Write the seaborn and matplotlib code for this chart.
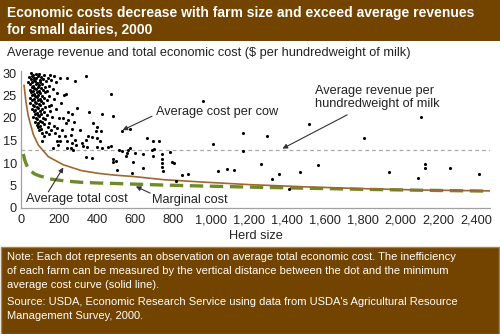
import matplotlib
matplotlib.use("Agg")
import matplotlib.pyplot as plt
from matplotlib.patches import Rectangle
import seaborn as sns
import pandas as pd

# Farm observations: herd size and average total economic cost ($/cwt)
farm_herd = [
    55, 63, 78, 96, 121, 152,
    44, 60, 70, 88, 107, 140, 176,
    52, 66, 81, 99, 115, 160, 205,
    38, 58, 74, 86, 102, 131, 185,
    49, 65, 79, 94, 112, 146,
    57, 71, 90, 104, 125, 168,
    46, 62, 77, 97, 118, 139,
    54, 69, 85, 101, 128, 190, 236,
    60, 75, 92, 110, 150, 225,
    50, 66, 83, 99, 119, 172,
    58, 73, 88, 106, 135,
    47, 64, 80, 95, 114, 158, 210,
    69, 84, 101, 126, 145,
    60, 76, 91, 109, 182, 293,
    67, 82, 98, 120, 154, 249,
    72, 88, 104, 138, 267,
    64, 80, 95, 116, 165, 200,
    85, 101, 127, 223, 249,
    76, 92, 110, 148, 279,
    83, 99, 123, 175, 237,
    90, 106, 140, 192,
    97, 131, 160, 214, 267, 311,
    112, 150, 181,
    120, 202, 232, 262,
    240, 284, 342, 474, 360, 428, 486, 381, 398, 393, 421, 530, 574,
    351, 372, 398, 416, 340, 328, 349, 398, 425, 457, 474, 342, 372,
    482, 486, 498, 504, 518, 530, 556, 553, 565, 574, 600, 591, 586,
    644, 644, 661, 697, 726, 688, 700, 693, 740, 740, 745, 740, 749,
    787, 796, 807, 814, 846, 881, 1009, 1039, 1083, 1122, 1170, 1167, 960,
    205, 240, 267, 289, 319, 188, 196, 170, 240, 262, 275, 109, 284,
    1263, 1296, 1323, 1360, 1412, 1468, 1516, 1565, 1805, 1938, 2093,
    2109, 2128, 2126, 2260, 2412,
]
farm_cost = [
    29.9, 29.6, 29.8, 29.7, 29.5, 29.6,
    29.1, 29.3, 29.0, 29.4, 29.2, 29.0, 29.3,
    28.7, 28.4, 28.8, 28.5, 28.6, 28.4, 28.8,
    28.1, 27.9, 28.2, 27.8, 28.0, 28.2, 27.9,
    27.5, 27.2, 27.6, 27.3, 27.5, 27.2,
    26.9, 26.6, 27.0, 26.7, 26.9, 26.5,
    26.3, 26.0, 26.4, 26.1, 26.3, 26.0,
    25.7, 25.4, 25.8, 25.5, 25.7, 25.5, 25.3,
    25.1, 24.8, 25.2, 24.9, 25.0, 25.1,
    24.5, 24.2, 24.6, 24.3, 24.5, 24.2,
    23.9, 23.6, 24.0, 23.7, 23.9,
    23.3, 23.0, 23.4, 23.1, 23.3, 23.0, 23.4,
    22.7, 22.4, 22.8, 22.5, 22.7,
    22.1, 21.8, 22.2, 21.9, 22.1, 22.3,
    21.5, 21.2, 21.6, 21.3, 21.5, 21.4,
    20.9, 20.6, 21.0, 20.7, 20.9,
    20.3, 20.0, 20.4, 20.1, 20.3, 20.0,
    19.7, 19.4, 19.8, 19.9, 19.6,
    19.1, 18.8, 19.2, 18.9, 19.2,
    18.5, 18.2, 18.6, 18.3, 18.8,
    17.9, 17.6, 18.0, 17.7,
    17.3, 17.0, 17.4, 17.3, 17.6, 17.3,
    16.7, 16.4, 16.6,
    16.0, 16.0, 16.1, 16.2,
    29.0, 28.3, 29.4, 25.3, 21.3, 21.0, 20.4, 19.0, 18.1, 17.1, 17.1, 17.2, 17.5,
    16.0, 15.7, 15.5, 14.8, 15.1, 13.8, 13.5, 13.5, 13.3, 13.6, 13.8, 11.4, 11.2,
    10.8, 10.3, 10.4, 8.4, 13.0, 12.7, 12.3, 11.5, 12.9, 13.3, 12.3, 10.3, 7.7,
    12.1, 9.0, 15.6, 14.9, 15.0, 12.9, 13.2, 11.6, 12.0, 11.0, 10.0, 9.2, 8.2,
    12.4, 10.3, 9.9, 5.9, 7.3, 7.6, 14.2, 8.3, 8.6, 8.4, 16.7, 12.7, 23.8,
    14.8, 14.8, 14.4, 14.0, 14.5, 14.8, 14.0, 13.3, 13.3, 13.3, 13.0, 14.9, 15.1,
    9.7, 16.1, 6.4, 7.6, 4.2, 8.0, 18.7, 9.6, 15.5, 8.1, 6.6,
    20.3, 9.7, 8.8, 9.0, 7.6,
]

# Minimum average total cost curve (solid line)
atc_herd = [16, 26, 38, 56, 65, 91, 144, 223, 319, 407, 495, 591, 750, 942,
            1200, 1500, 1800, 2100, 2470]
atc_cost = [27.3, 23.6, 20.5, 17.7, 16.3, 14.0, 11.4, 9.6, 8.3, 7.7, 7.3, 7.0,
            6.3, 5.8, 5.2, 4.7, 4.3, 4.0, 3.8]

# Marginal cost curve (dashed line)
mc_herd = [12, 20, 30, 47, 70, 100, 161, 232, 319, 407, 495, 600, 750, 942,
           1200, 1500, 1800, 2100, 2470]
mc_cost = [12.0, 10.6, 9.5, 8.4, 7.6, 7.1, 6.4, 6.0, 5.7, 5.55, 5.45, 5.3, 5.1,
           4.9, 4.65, 4.4, 4.15, 3.95, 3.75]

# Average revenue per hundredweight of milk
avg_revenue = 12.9

x_ticks = [0, 200, 400, 600, 800, 1000, 1200, 1400, 1600, 1800, 2000, 2200, 2400]
x_tick_labels = ["0", "200", "400", "600", "800", "1,000", "1,200", "1,400",
                 "1,600", "1,800", "2,000", "2,200", "2,400"]
y_ticks = [0, 5, 10, 15, 20, 25, 30]

title_lines = ["Economic costs decrease with farm size and exceed average revenues",
               "for small dairies, 2000"]
y_caption = "Average revenue and total economic cost ($ per hundredweight of milk)"
note_lines = [
    "Note: Each dot represents an observation on average total economic cost. The inefficiency",
    "of each farm can be measured by the vertical distance between the dot and the minimum",
    "average cost curve (solid line).",
    "Source: USDA, Economic Research Service using data from USDA's Agricultural Resource",
    "Management Survey, 2000.",
]

sns.set_theme(style="white")
plt.rcParams["font.family"] = ["Liberation Sans", "DejaVu Sans"]

BROWN = "#734300"
TEXT = "#222222"
FS = 9.2
W, H = 500, 334

fig = plt.figure(figsize=(W / 100, H / 100), dpi=100)
fig.patch.set_facecolor("white")

# Title banner and note box
fig.patches.append(Rectangle((0, 1 - 41 / H), 1, 41 / H, transform=fig.transFigure,
                             facecolor=BROWN, edgecolor="none", zorder=0))
fig.patches.append(Rectangle((0.002, 0), 0.996, (H - 246.5) / H, transform=fig.transFigure,
                             facecolor=BROWN, edgecolor="#A8824E", linewidth=1.0, zorder=0))

fig.text(7 / W, 1 - 12.7 / H, title_lines[0], color="white", fontsize=10,
         fontweight="bold", ha="left", va="center")
fig.text(7 / W, 1 - 29.3 / H, title_lines[1], color="white", fontsize=10,
         fontweight="bold", ha="left", va="center")
fig.text(7 / W, 1 - 52.7 / H, y_caption, color=TEXT, fontsize=FS,
         ha="left", va="center")

note_y = [256.7, 270.7, 285.0, 301.7, 315.7]
for line, yy in zip(note_lines, note_y):
    fig.text(7 / W, 1 - yy / H, line, color="white", fontsize=8.0, ha="left", va="center")

ax = fig.add_axes([21 / W, (H - 208) / H, (490 - 21) / W, (208 - 70.75) / H])
ax.set_facecolor("white")

df_farms = pd.DataFrame({"herd": farm_herd, "cost": farm_cost})
df_atc = pd.DataFrame({"herd": atc_herd, "cost": atc_cost})
df_mc = pd.DataFrame({"herd": mc_herd, "cost": mc_cost})

ax.axhline(avg_revenue, color="#A8A8A8", lw=0.9, ls=(0, (3, 2.5)), zorder=1)
sns.lineplot(data=df_mc, x="herd", y="cost", ax=ax, color="#6E8B2A", lw=2.4,
             linestyle=(0, (4, 2)), zorder=2, estimator=None, sort=False)
sns.lineplot(data=df_atc, x="herd", y="cost", ax=ax, color="#A0672E", lw=1.2,
             zorder=3, estimator=None, sort=False)
sns.scatterplot(data=df_farms, x="herd", y="cost", ax=ax, color="black", s=5,
                linewidth=0, zorder=4)

ax.set_xlim(0, 2470)
ax.set_ylim(0, 30.5)
ax.set_xticks(x_ticks)
ax.set_xticklabels(x_tick_labels)
ax.set_yticks(y_ticks)
ax.set_xlabel("Herd size", fontsize=FS, color=TEXT, labelpad=3)
ax.set_ylabel("")
for s in ["top", "right"]:
    ax.spines[s].set_visible(False)
for s in ["left", "bottom"]:
    ax.spines[s].set_color("#A0A0A0")
    ax.spines[s].set_linewidth(0.9)
ax.tick_params(axis="both", labelsize=FS, colors=TEXT, length=2.5, width=0.8,
               pad=2, color="#A0A0A0")
ax.tick_params(axis="y", length=0, pad=3)

arrow_kw = dict(arrowstyle="-|>", color="#333333", lw=0.8, mutation_scale=7,
                shrinkA=0, shrinkB=0)
txt_kw = dict(fontsize=FS, color=TEXT, va="center", ha="left")

ax.text(711, 21.4, "Average cost per cow", **txt_kw)
ax.annotate("", xy=(535, 17.3), xytext=(690, 20.4), arrowprops=arrow_kw)

ax.text(1547, 24.6, "Average revenue per\nhundredweight of milk", linespacing=1.15, **txt_kw)
ax.annotate("", xy=(1377, 13.2), xytext=(1718, 20.7), arrowprops=arrow_kw)

ax.text(26, 1.93, "Average total cost", **txt_kw)
ax.annotate("", xy=(223, 9.0), xytext=(144, 3.6), arrowprops=arrow_kw)

ax.text(690, 1.78, "Marginal cost", **txt_kw)
ax.annotate("", xy=(605, 4.8), xytext=(680, 3.3), arrowprops=arrow_kw)

fig.savefig("out.png", dpi=100, facecolor="white")
